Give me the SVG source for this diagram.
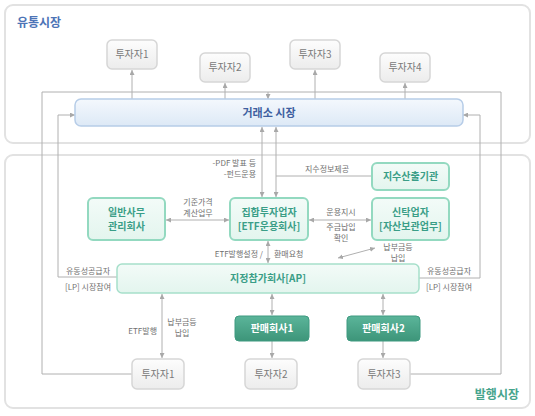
<svg xmlns="http://www.w3.org/2000/svg" width="535" height="416" viewBox="0 0 535 416">
<defs>
<style>
text{font-family:"Noto Sans CJK KR","Noto Sans",sans-serif;}
.panel{fill:#fff;stroke:#e2e2e2;stroke-width:2;}
.inv rect{fill:url(#gInv);stroke:#d6d6d6;stroke-width:1.5;}
.inv text{fill:#7a7a7a;font-size:10px;text-anchor:middle;}
.tl rect{fill:url(#gTeal);stroke:#93d9c0;stroke-width:2;}
.tl text{fill:#3a9e87;font-size:10px;font-weight:bold;text-anchor:middle;}
.dk rect{fill:url(#gDark);stroke:#3e9a80;stroke-width:1;}
.dk text{fill:#fff;font-size:10px;font-weight:bold;text-anchor:middle;}
.ln{fill:none;stroke:#b0b0b0;stroke-width:1;}
.ar{marker-end:url(#ah);}
.ar2{marker-start:url(#ahs);marker-end:url(#ah);}
.lb{fill:#707070;font-size:8px;}
.c{text-anchor:middle;}
.r{text-anchor:end;}
</style>
<linearGradient id="gInv" x1="0" y1="0" x2="0" y2="1"><stop offset="0" stop-color="#fdfdfd"/><stop offset="1" stop-color="#ececec"/></linearGradient>
<linearGradient id="gTeal" x1="0" y1="0" x2="0" y2="1"><stop offset="0" stop-color="#f3fbf8"/><stop offset="1" stop-color="#e3f5ee"/></linearGradient>
<linearGradient id="gBar" x1="0" y1="0" x2="0" y2="1"><stop offset="0" stop-color="#f4f8fd"/><stop offset="1" stop-color="#dde9f6"/></linearGradient>
<linearGradient id="gDark" x1="0" y1="0" x2="0" y2="1"><stop offset="0" stop-color="#5bb59a"/><stop offset="1" stop-color="#3d9579"/></linearGradient>
<marker id="ah" viewBox="0 0 6 6" refX="6" refY="3" markerWidth="5" markerHeight="5" markerUnits="userSpaceOnUse" orient="auto"><path d="M0,0 L6,3 L0,6 z" fill="#a8a8a8"/></marker>
<marker id="ahs" viewBox="0 0 6 6" refX="0" refY="3" markerWidth="5" markerHeight="5" markerUnits="userSpaceOnUse" orient="auto"><path d="M6,0 L0,3 L6,6 z" fill="#a8a8a8"/></marker>
</defs>

<rect class="panel" x="5" y="5" width="525" height="138" rx="8"/>
<rect class="panel" x="5" y="155" width="525" height="253" rx="8"/>
<text x="17" y="27" fill="#4d74b6" font-size="12" font-weight="bold">유통시장</text>
<text x="519" y="399" fill="#46a48c" font-size="12" font-weight="bold" text-anchor="end">발행시장</text>

<g id="connectors">
<path class="ln" d="M132,374 H42 V92 H501 V374 H410"/>
<path class="ln ar" d="M268,92 V99"/>
<path class="ln ar2" d="M132,70 V112"/>
<path class="ln ar2" d="M225,83 V112"/>
<path class="ln ar2" d="M315,70 V112"/>
<path class="ln ar2" d="M405,83 V112"/>
<path class="ln ar" d="M58,277 V115 H75"/>
<path class="ln" d="M58,277 H117"/>
<path class="ln ar" d="M480,278 V115 H463"/>
<path class="ln" d="M480,278 H419"/>
<path class="ln ar2" d="M262,127 V197"/>
<path class="ln ar2" d="M276,127 V197"/>
<path class="ln" d="M276,176 H372"/>
<path class="ln ar2" d="M166,220 H229"/>
<path class="ln ar2" d="M309,220 H371"/>
<path class="ln ar2" d="M375,248 L338,258"/>
<path class="ln ar2" d="M268,241 V263"/>
<path class="ln ar2" d="M162,294 V358"/>
<path class="ln ar2" d="M272,294 V315"/>
<path class="ln ar" d="M272,341 V358"/>
<path class="ln ar2" d="M383,294 V315"/>
<path class="ln ar" d="M383,341 V358"/>
</g>

<g id="labels">
<text class="lb r" x="256" y="166">-PDF 발표 등</text>
<text class="lb r" x="256" y="177">-펀드운용</text>
<text class="lb c" x="327" y="172">지수정보제공</text>
<text class="lb c" x="198" y="205">기준가격</text>
<text class="lb c" x="198" y="216">계산업무</text>
<text class="lb c" x="341" y="215">운용지시</text>
<text class="lb c" x="341" y="230">주금납입</text>
<text class="lb c" x="341" y="241">확인</text>
<text class="lb c" x="398" y="250">납부금등</text>
<text class="lb c" x="398" y="261">납입</text>
<text class="lb r" x="263" y="257">ETF발행설정 /</text>
<text class="lb" x="274" y="257">환매요청</text>
<text class="lb c" x="88" y="274">유동성공급자</text>
<text class="lb c" x="88" y="290">[LP] 시장참여</text>
<text class="lb c" x="449" y="274">유동성공급자</text>
<text class="lb c" x="449" y="290">[LP] 시장참여</text>
<text class="lb r" x="157" y="334">ETF발행</text>
<text class="lb c" x="182" y="325">납부금등</text>
<text class="lb c" x="182" y="336">납입</text>
</g>

<g id="inv-t1" class="inv"><rect x="107" y="40" width="50" height="29" rx="5"/><text x="132" y="58">투자자1</text></g>
<g id="inv-t2" class="inv"><rect x="200" y="53" width="50" height="29" rx="5"/><text x="225" y="71">투자자2</text></g>
<g id="inv-t3" class="inv"><rect x="290" y="40" width="50" height="29" rx="5"/><text x="315" y="58">투자자3</text></g>
<g id="inv-t4" class="inv"><rect x="380" y="53" width="50" height="29" rx="5"/><text x="405" y="71">투자자4</text></g>

<g id="exchange"><rect x="75" y="99" width="388" height="27" rx="6" fill="url(#gBar)" stroke="#b7cde8" stroke-width="1.5"/><text x="269" y="117" fill="#3f5fa0" font-size="11" font-weight="bold" text-anchor="middle">거래소 시장</text></g>

<g id="admin" class="tl"><rect x="88" y="198" width="77" height="42" rx="5"/><text x="126.5" y="216">일반사무</text><text x="126.5" y="230">관리회사</text></g>
<g id="manager" class="tl"><rect x="230" y="198" width="78" height="42" rx="5"/><text x="269" y="216">집합투자업자</text><text x="269" y="230">[ETF운용회사]</text></g>
<g id="trustee" class="tl"><rect x="372" y="198" width="77" height="42" rx="5"/><text x="410.5" y="216">신탁업자</text><text x="410.5" y="230">[자산보관업무]</text></g>
<g id="index" class="tl"><rect x="372" y="163" width="77" height="27" rx="5"/><text x="410.5" y="180">지수산출기관</text></g>
<g id="ap" class="tl"><rect x="117" y="264" width="302" height="29" rx="5" style="stroke:#a6dfca;stroke-width:1.5"/><text x="268" y="282">지정참가회사[AP]</text></g>

<g id="seller1" class="dk"><rect x="235" y="316" width="74" height="25" rx="4"/><text x="272" y="332">판매회사1</text></g>
<g id="seller2" class="dk"><rect x="347" y="316" width="73" height="25" rx="4"/><text x="383.5" y="332">판매회사2</text></g>

<g id="inv-b1" class="inv"><rect x="132" y="359" width="52" height="30" rx="5"/><text x="158" y="378">투자자1</text></g>
<g id="inv-b2" class="inv"><rect x="245" y="359" width="52" height="30" rx="5"/><text x="271" y="378">투자자2</text></g>
<g id="inv-b3" class="inv"><rect x="358" y="359" width="52" height="30" rx="5"/><text x="384" y="378">투자자3</text></g>
</svg>
